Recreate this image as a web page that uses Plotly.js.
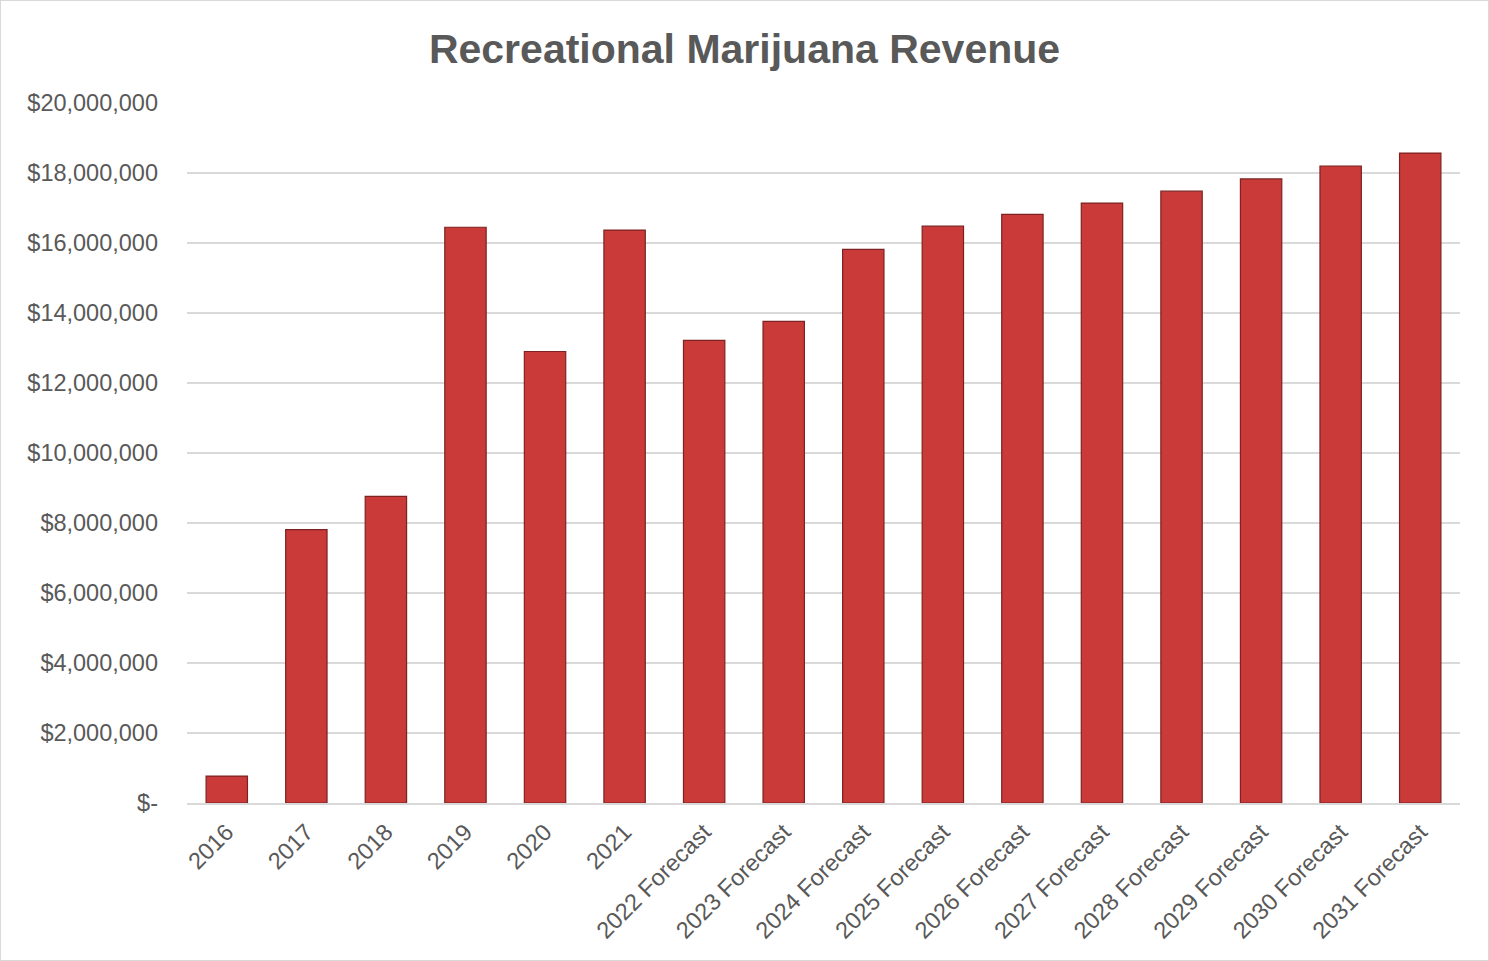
<!DOCTYPE html>
<html>
<head>
<meta charset="utf-8">
<script src="https://cdn.plot.ly/plotly-3.0.1.min.js"></script>
<style>
html,body{margin:0;padding:0;background:#fff;}
#chart{width:1487px;height:959px;border:1px solid #d9d9d9;}
</style>
</head>
<body>
<div id="chart"></div>
<script>
const categories = ["2016","2017","2018","2019","2020","2021","2022 Forecast","2023 Forecast","2024 Forecast","2025 Forecast","2026 Forecast","2027 Forecast","2028 Forecast","2029 Forecast","2030 Forecast","2031 Forecast"];
const revenue = [770000,7810000,8760000,16450000,12900000,16370000,13220000,13760000,15820000,16480000,16820000,17140000,17480000,17830000,18200000,18570000];
const yTickVals = [0,2000000,4000000,6000000,8000000,10000000,12000000,14000000,16000000,18000000,20000000];
const yTickText = ["$-","$2,000,000","$4,000,000","$6,000,000","$8,000,000","$10,000,000","$12,000,000","$14,000,000","$16,000,000","$18,000,000","$20,000,000"];

const trace = {
  type: 'bar',
  x: categories,
  y: revenue,
  marker: {color: '#c93a38', line: {color: '#7d2222', width: 1.2}},
  hoverinfo: 'x+y'
};

const layout = {
  width: 1487, height: 959,
  margin: {l: 186, r: 28, t: 102, b: 157},
  paper_bgcolor: '#fff', plot_bgcolor: '#fff',
  bargap: 0.48,
  showlegend: false,
  font: {family: '"Liberation Sans", Arial, sans-serif', color: '#595959', size: 24},
  title: {
    text: '<b>Recreational Marijuana Revenue</b>',
    font: {family: '"Liberation Sans", Arial, sans-serif', size: 41, color: '#595959'},
    x: 0.5, xanchor: 'center', y: 0.95, yanchor: 'middle'
  },
  xaxis: {
    type: 'category',
    tickangle: -45,
    tickfont: {size: 23.5, color: '#595959'},
    showgrid: false,
    showline: true, linecolor: '#d9d9d9', linewidth: 2,
    ticks: '',
    ticklabelstandoff: 4
  },
  yaxis: {
    range: [0, 20000000],
    tickvals: yTickVals,
    ticktext: yTickText,
    tickfont: {size: 23.5, color: '#595959'},
    showgrid: true, gridcolor: '#d9d9d9', gridwidth: 1.5,
    zeroline: false,
    showline: false,
    ticks: '',
    ticklabelstandoff: 28
  }
};

Plotly.newPlot('chart', [trace], layout, {displayModeBar: false, staticPlot: true});
</script>
</body>
</html>
